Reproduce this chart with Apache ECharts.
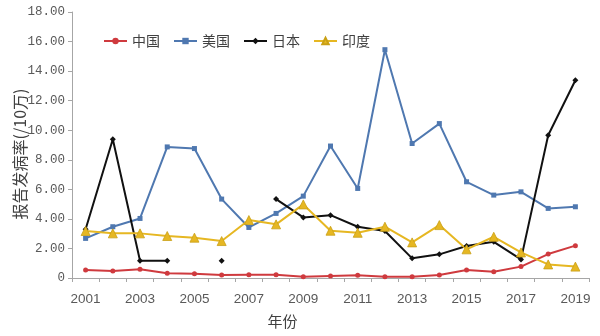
<!DOCTYPE html>
<html>
<head>
<meta charset="utf-8">
<script src="https://cdn.jsdelivr.net/npm/echarts@6/dist/echarts.min.js"></script>
<style>
  html, body { margin: 0; padding: 0; background: #fff; }
  #chart { width: 600px; height: 336px; }
</style>
</head>
<body>
<div id="chart"></div>
<script>
// Reported incidence per 100,000, 2001-2019
const years = ['2001','2002','2003','2004','2005','2006','2007','2008','2009','2010',
               '2011','2012','2013','2014','2015','2016','2017','2018','2019'];
const china = [0.54, 0.47, 0.59, 0.32, 0.29, 0.20, 0.22, 0.22, 0.09, 0.14,
               0.18, 0.09, 0.09, 0.20, 0.54, 0.43, 0.77, 1.62, 2.19];
const usa   = [2.68, 3.47, 4.03, 8.87, 8.76, 5.34, 3.42, 4.37, 5.54, 8.93,
               6.06, 15.45, 9.10, 10.45, 6.51, 5.61, 5.83, 4.71, 4.82];
const japan = [3.30, 9.39, 1.17, 1.17, null, 1.17, null, 5.34, 4.10, 4.25,
               3.47, 3.18, 1.33, 1.60, 2.16, 2.45, 1.26, 9.66, 13.38];
const india = [3.18, 3.02, 3.02, 2.84, 2.73, 2.50, 3.92, 3.63, 4.98, 3.20,
               3.06, 3.47, 2.41, 3.58, 1.94, 2.79, 1.73, 0.92, 0.77];

const seriesNames = ['中国', '美国', '日本', '印度'];
const yTicks = { min: 0, max: 18, interval: 2 };

const axisGray = '#a6a6a6';
const labelGray = '#595959';
const cjkFont = '"Noto Sans CJK SC", sans-serif';

function lineSeries(name, data, color, symbol, size, extra) {
  return Object.assign({
    name: name,
    type: 'line',
    data: data,
    symbol: symbol,
    symbolSize: size,
    showAllSymbol: true,
    connectNulls: false,
    lineStyle: { color: color, width: 2 },
    itemStyle: { color: color },
    emphasis: { disabled: true },
    animation: false
  }, extra || {});
}

const chart = echarts.init(document.getElementById('chart'), null, { renderer: 'canvas' });
chart.setOption({
  backgroundColor: '#ffffff',
  animation: false,
  grid: { left: 72, right: 11, top: 12, bottom: 58, containLabel: false,
          outerBoundsMode: 'none' },
  legend: {
    top: 29,
    left: 98,
    itemWidth: 23,
    itemHeight: 8,
    itemGap: 13,
    textStyle: { fontFamily: cjkFont, fontSize: 14, color: '#404040' },
    data: seriesNames
  },
  xAxis: {
    type: 'category',
    data: years,
    boundaryGap: true,
    name: '年份',
    nameLocation: 'middle',
    nameGap: 36,
    nameMoveOverlap: false,
    nameTextStyle: { fontFamily: cjkFont, fontSize: 15, color: '#404040',
                     padding: [0, 96, 0, 0] },
    axisLine: { lineStyle: { color: axisGray, width: 1 } },
    axisTick: { show: true, alignWithLabel: false, interval: 0, length: 4, inside: false,
                lineStyle: { color: axisGray } },
    axisLabel: { interval: 1, margin: 14, fontFamily: 'Liberation Sans, Arial, sans-serif',
                 fontSize: 13.5, color: labelGray },
    splitLine: { show: false }
  },
  yAxis: {
    type: 'value',
    min: yTicks.min,
    max: yTicks.max,
    interval: yTicks.interval,
    name: '报告发病率(/10万)',
    nameLocation: 'middle',
    nameGap: 44,
    nameRotate: 90,
    nameMoveOverlap: false,
    nameTextStyle: { fontFamily: cjkFont, fontSize: 16, color: '#404040',
                     padding: [0, 18, 0, 0] },
    axisLine: { show: true, lineStyle: { color: axisGray, width: 1 } },
    axisTick: { show: true, length: 4, inside: false, lineStyle: { color: axisGray } },
    axisLabel: {
      margin: 7,
      fontFamily: '"Liberation Mono", monospace',
      fontSize: 12.5,
      color: labelGray,
      formatter: v => (v === 0 ? '0' : v.toFixed(2))
    },
    splitLine: { show: false }
  },
  series: [
    lineSeries('中国', china, '#cf3a3e', 'circle', 5),
    lineSeries('美国', usa, '#4f78b0', 'rect', 5),
    lineSeries('日本', japan, '#111111', 'diamond', 6),
    lineSeries('印度', india, '#e6b722', 'triangle', 9, {
      itemStyle: { color: '#e6b722', borderColor: '#c9a015', borderWidth: 0.8 }
    })
  ]
});
</script>
</body>
</html>
